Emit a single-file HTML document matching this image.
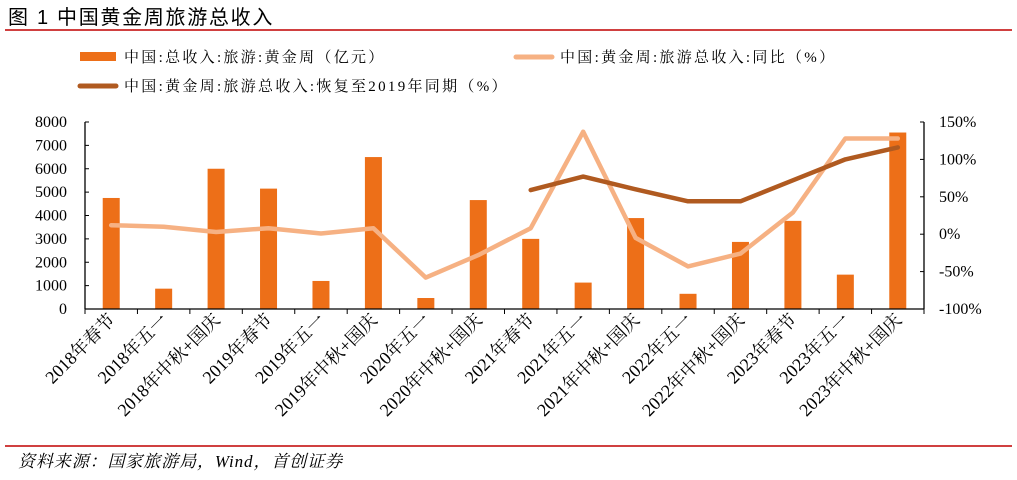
<!DOCTYPE html>
<html><head><meta charset="utf-8"><style>
body{margin:0;background:#fff;width:1017px;height:475px;overflow:hidden}
svg text{font-family:"Liberation Serif","Noto Serif CJK SC","Noto Sans CJK SC",serif}
</style></head><body>
<svg id="c" width="1017" height="475">
<text x="8" y="24" font-size="20" letter-spacing="1.7" fill="#000" style="font-family:'Liberation Sans','Noto Sans CJK SC',sans-serif">图 1 中国黄金周旅游总收入</text>
<line x1="5" y1="30" x2="1012" y2="30" stroke="#c00000" stroke-width="1.5"/>
<g font-size="15" letter-spacing="2.3">
<rect x="80" y="52" width="36" height="9" fill="#ed6f18"/>
<text x="124" y="62">中国:总收入:旅游:黄金周（亿元）</text>
<line x1="516" y1="57" x2="552" y2="57" stroke="#f6b183" stroke-width="5" stroke-linecap="round"/>
<text x="560" y="62">中国:黄金周:旅游总收入:同比（%）</text>
<line x1="80" y1="86" x2="116" y2="86" stroke="#b05a20" stroke-width="5" stroke-linecap="round"/>
<text x="124" y="91">中国:黄金周:旅游总收入:恢复至2019年同期（%）</text>
</g>
<g id="plot"></g>
<line x1="5" y1="446" x2="1012" y2="446" stroke="#c00000" stroke-width="1.5"/>
<text x="18" y="467" font-size="17" letter-spacing="0.9" font-style="italic">资料来源：国家旅游局，Wind，首创证券</text>
</svg>
<script>
const categories=["2018年春节","2018年五一","2018年中秋+国庆","2019年春节","2019年五一","2019年中秋+国庆","2020年五一","2020年中秋+国庆","2021年春节","2021年五一","2021年中秋+国庆","2022年五一","2022年中秋+国庆","2023年春节","2023年五一","2023年中秋+国庆"];
const revenue=[4750,870,6000,5150,1200,6500,470,4660,3000,1130,3890,650,2870,3770,1470,7550];
const yoy=[12,10,3,8,1,8,-58,-28,8,137,-5,-43,-26,29,128,128];
const recovery=[null,null,null,null,null,null,null,null,59,77,60,44,44,72,100,116];
const leftTicks=[0,1000,2000,3000,4000,5000,6000,7000,8000];
const rightTicks=[-100,-50,0,50,100,150];
const NS="http://www.w3.org/2000/svg";
const g=document.getElementById('plot');
const L=85,R=924,T=122,B=309;
const slot=(R-L)/categories.length;
const xc=i=>L+slot*(i+0.5);
const yL=v=>B-(v/8000)*(B-T);
const yR=v=>B-((v+100)/250)*(B-T);
function mk(t,a){const e=document.createElementNS(NS,t);for(const k in a)e.setAttribute(k,a[k]);g.appendChild(e);return e;}
revenue.forEach((v,i)=>{const r=mk('rect',{x:xc(i)-8.5,y:yL(v),width:17,height:B-yL(v),fill:'#ed6f18'});

});
let a=mk('line',{x1:L,y1:T,x2:L,y2:B,stroke:'#000','stroke-width':1.3});


a=mk('line',{x1:R,y1:T,x2:R,y2:B,stroke:'#000','stroke-width':1.3});


a=mk('line',{x1:L,y1:B,x2:R,y2:B,stroke:'#000','stroke-width':1.3});


leftTicks.forEach(v=>{mk('line',{x1:L,y1:yL(v),x2:L+4,y2:yL(v),stroke:'#000'});
const t=mk('text',{x:L-18,y:yL(v)+5,'text-anchor':'end','font-size':16});t.textContent=v;

});
rightTicks.forEach(v=>{mk('line',{x1:R-4,y1:yR(v),x2:R,y2:yR(v),stroke:'#000'});
const t=mk('text',{x:R+15,y:yR(v)+5,'font-size':16});t.textContent=v+'%';

});
for(let i=0;i<=categories.length;i++)mk('line',{x1:L+slot*i,y1:B,x2:L+slot*i,y2:B+5,stroke:'#000'});
categories.forEach((c,i)=>{const x=xc(i)+5,y=B+12;const t=mk('text',{x:x,y:y,'text-anchor':'end','font-size':18,transform:`rotate(-45 ${x} ${y})`});t.textContent=c;

});
function line(arr,col,name){const pts=[];arr.forEach((v,i)=>{if(v!==null)pts.push(xc(i).toFixed(1)+','+yR(v).toFixed(1));});
const p=mk('polyline',{points:pts.join(' '),fill:'none',stroke:col,'stroke-width':4.5,'stroke-linejoin':'round','stroke-linecap':'round'});

}
line(yoy,'#f6b183','yoy-line');
line(recovery,'#b05a20','recovery-line');
</script>
</body></html>
